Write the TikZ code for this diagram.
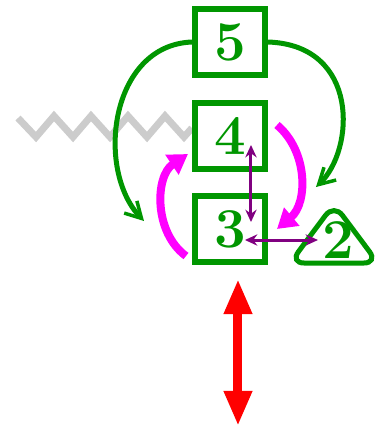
\documentclass[tikz,border=0pt]{standalone}
\usetikzlibrary{arrows.meta}
\definecolor{boxgreen}{RGB}{0,150,0}
\definecolor{swirl}{RGB}{255,0,255}
\definecolor{link}{RGB}{128,0,128}
\tikzset{
  level/.style={draw=boxgreen,line width=0.06cm,minimum width=0.70cm,minimum height=0.66cm,
    text=boxgreen,font=\fontsize{16}{16}\selectfont\bfseries,inner sep=0pt},
  hop/.style={draw=boxgreen,line width=0.05cm,-{Straight Barb[length=4.5pt,width=5pt,line width=0.035cm]}},
  turn/.style={draw=swirl,line width=0.08cm,-{Triangle[length=5.5pt,width=6.5pt]}},
  pair/.style={draw=link,line width=0.03cm,{Stealth[length=3.5pt,width=3.2pt]}-{Stealth[length=3.5pt,width=3.2pt]}}
}
\begin{document}
\begin{tikzpicture}[x=0.01cm,y=-0.01cm]
\useasboundingbox (0,0) rectangle (387,432);
% zigzag
\draw[gray!40,line width=0.07cm,line join=miter] (18,118) -- (36,137) -- (54,116) -- (73,137) -- (91,116)
  -- (110,137) -- (128,116) -- (147,137) -- (165,116) -- (184,137) -- (192,128);
\node[level] (n5) at (230,42) {5};
\node[level] (n4) at (230,136) {4};
\node[level] (n3) at (230,229) {3};
\draw[boxgreen,line width=0.05cm,rounded corners=4pt] (334,204) -- (378,263) -- (290,263) -- cycle;
\node[text=boxgreen,font=\fontsize{16}{16}\selectfont\bfseries,inner sep=1pt] (n2) at (338,240) {2};
\coordinate (l3) at (144,221);
\coordinate (r2) at (316,187);
\draw[hop] (n5.west) .. controls (110,45) and (95,170) .. (l3);
\draw[hop] (n5.east) .. controls (360,45) and (355,150) .. (r2);
% spins
\coordinate (a3) at (186,256);
\coordinate (a4) at (188,154);
\coordinate (b4) at (277,125);
\coordinate (b3) at (277,229);
\draw[turn] (a3) to[bend left=55] (a4);
\draw[turn] (b4) to[bend left=50] (b3);
% links
\coordinate (u4) at (251,145);
\coordinate (d3) at (251,222);
\coordinate (m3) at (245,240);
\draw[pair] (u4) -- (d3);
\draw[pair] (m3) -- (n2.west);
% red
\coordinate (top) at (238,279);
\coordinate (bot) at (238,426);
\draw[red,line width=0.09cm,{Triangle[length=10pt,width=7.5pt]}-{Triangle[length=10pt,width=7.5pt]}] (top) -- (bot);
\end{tikzpicture}
\end{document}
